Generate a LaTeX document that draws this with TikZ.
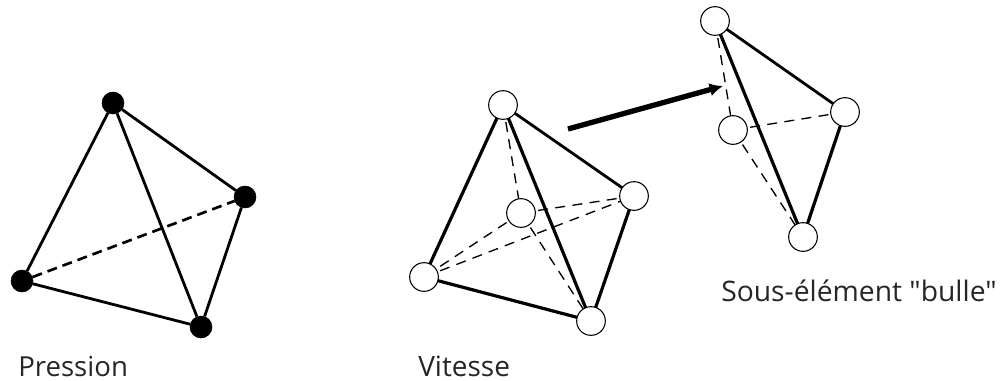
\documentclass[tikz,border=0pt]{standalone}
\usepackage{fontspec}
\setmainfont{Open Sans}[Ligatures=TeXOff]
\usetikzlibrary{arrows.meta}
\tikzset{
  x=0.75pt,y=-0.75pt,
  solidnode/.style={circle,fill=black,draw=black,inner sep=0pt,minimum size=16.5pt},
  opennode/.style={circle,fill=white,draw=black,line width=0.8pt,inner sep=0pt,minimum size=21.5pt},
  edge/.style={line width=2.4pt,black},
  pedge/.style={line width=2.1pt,black},
  thinedge/.style={line width=2.1pt,black},
  hidden/.style={line width=2pt,black,dash pattern=on 7.5pt off 4.5pt},
  hiddenthin/.style={line width=1pt,black,dash pattern=on 7.5pt off 5.5pt},
  caption/.style={font=\fontsize{21}{25}\selectfont,anchor=base west,inner sep=0pt,text=black!85},
  pcaption/.style={caption,font=\fontsize{20.7}{25}\selectfont},
  bigcaption/.style={caption,font=\fontsize{21.2}{26}\selectfont},
  bigarrow/.style={line width=4pt,black,-{Latex[length=10pt,width=10pt]}}
}
\begin{document}
\begin{tikzpicture}
\useasboundingbox (0,0) rectangle (1002,380);
% Pression
\node[solidnode] (pt) at (113,103) {};
\node[solidnode] (pr) at (245,197) {};
\node[solidnode] (pl) at (22,281) {};
\node[solidnode] (pb) at (201,327) {};
\draw[pedge] (pt) -- (pl);
\draw[pedge] (pt) -- (pr);
\draw[pedge] (pt) -- (pb);
\draw[pedge] (pl) -- (pb);
\draw[pedge] (pr) -- (pb);
\draw[hidden] (pl) -- (pr);
\node[pcaption] (cp) at (18,376) {Pression};
% Vitesse
\coordinate (vta) at (503,105);
\coordinate (vra) at (634,196);
\coordinate (vca) at (521,213);
\coordinate (vla) at (424,277);
\coordinate (vba) at (591,321);
\draw[edge] (vta) -- (vla);
\draw[thinedge] (vta) -- (vra);
\draw[edge] (vta) -- (vba);
\draw[edge] (vla) -- (vba);
\draw[edge] (vra) -- (vba);
\draw[hiddenthin] (vta) -- (vca);
\draw[hiddenthin] (vca) -- (vra);
\draw[hiddenthin] (vca) -- (vla);
\draw[hiddenthin] (vca) -- (vba);
\draw[hiddenthin] (vla) -- (vra);
\node[opennode] (vt) at (vta) {};
\node[opennode] (vr) at (vra) {};
\node[opennode] (vc) at (vca) {};
\node[opennode] (vl) at (vla) {};
\node[opennode] (vb) at (vba) {};
\node[caption] (cv) at (418,376) {Vitesse};
% Sous-element
\coordinate (sta) at (715,21);
\coordinate (sra) at (845,112);
\coordinate (sca) at (733,130);
\coordinate (sba) at (803,237);
\draw[thinedge] (sta) -- (sra);
\draw[edge] (sta) -- (sba);
\draw[edge] (sra) -- (sba);
\draw[hiddenthin] (sta) -- (sca);
\draw[hiddenthin] (sca) -- (sra);
\draw[hiddenthin] (sca) -- (sba);
\node[opennode] (st) at (sta) {};
\node[opennode] (sr) at (sra) {};
\node[opennode] (sc) at (sca) {};
\node[opennode] (sb) at (sba) {};
\node[bigcaption] (cs) at (721,301) {Sous-élément "bulle"};
% Arrow
\coordinate (as) at (568,129);
\coordinate (ae) at (723,86);
\draw[bigarrow] (as) -- (ae);
\end{tikzpicture}
\end{document}
